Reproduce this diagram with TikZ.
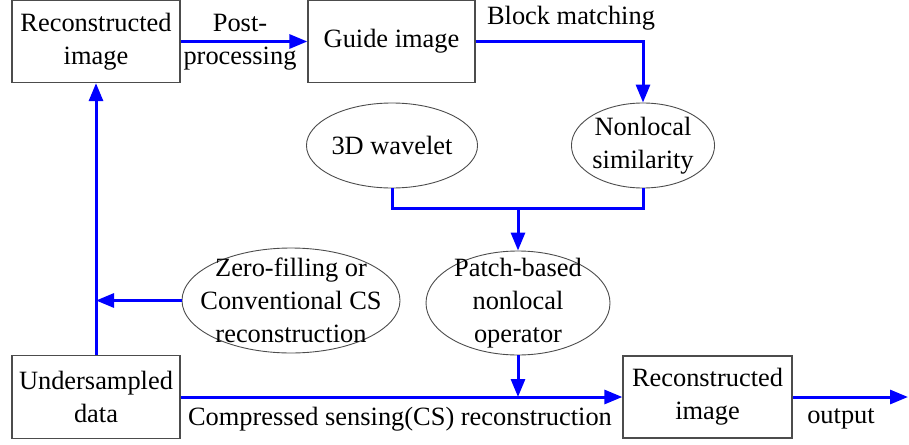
\documentclass[tikz,border=0pt]{standalone}
\usepackage{fontspec}
\setmainfont{Liberation Serif}
\usetikzlibrary{shapes.geometric,arrows.meta}
\begin{document}
\begin{tikzpicture}[x=1pt,y=-1pt,
  every node/.style={font=\fontsize{26.4}{33}\selectfont, align=center},
  boxnode/.style={draw=black!70, line width=1.3pt, minimum width=168pt, minimum height=82pt, inner sep=0pt},
  ellnode/.style={ellipse, draw=black!70, line width=0.9pt, inner sep=0pt},
  flow/.style={draw=blue, line width=3pt, -{Triangle[length=18pt,width=14pt]}},
  plain/.style={draw=blue, line width=3pt},
  lbl/.style={inner sep=0pt}]
\useasboundingbox (0,0) rectangle (909,444);
\node[boxnode] (r1) at (96,41.5) {Reconstructed\\image};
\node[boxnode, minimum width=167pt] (guide) at (391.5,41.5) {Guide image};
\node[boxnode, minimum height=83pt] (under) at (96,397) {Undersampled\\data};
\node[boxnode, minimum width=169pt] (r2) at (707.5,397) {Reconstructed\\image};
\node[ellnode, minimum width=150pt, minimum height=85pt] (wave) at (392,145.5) {3D wavelet};
\node[ellnode, minimum width=142pt, minimum height=85pt] (nonloc) at (643,145.5) {Nonlocal\\similarity};
\node[ellnode, minimum width=184pt, minimum height=104pt] (patch) at (518,303) {};
\node[lbl] (patcht) at (518,303) {Patch-based\\nonlocal\\operator};
\node[ellnode, minimum width=218pt, minimum height=105pt] (zero) at (291,300.5) {};
\node[lbl] (zerot) at (291,300.5) {Zero-filling or\\Conventional CS\\reconstruction};
\coordinate (j) at (518,208);
\coordinate (out) at (908,397);
\draw[flow] (r1.east) -- (guide.west);
\draw[flow] (guide.east) -| (nonloc.north);
\draw[plain] (wave.south) |- (j) -| (nonloc.south);
\draw[flow] (j) -- (patch.north);
\draw[flow] (patch.south) -- (patch.south |- r2.west);
\draw[flow] (under.east) -- (r2.west);
\draw[flow] (under.north) -- (r1.south);
\draw[flow] (zero.west) -- (zero.west -| under.north);
\draw[flow] (r2.east) -- (out);
\node[lbl] (pp) at (240,42) {Post-\\processing};
\node[lbl] (bm) at (571,18) {Block matching};
\node[lbl] (cs) at (400,419) {Compressed sensing(CS) reconstruction};
\node[lbl] (op) at (841,419) {output};
\end{tikzpicture}
\end{document}
